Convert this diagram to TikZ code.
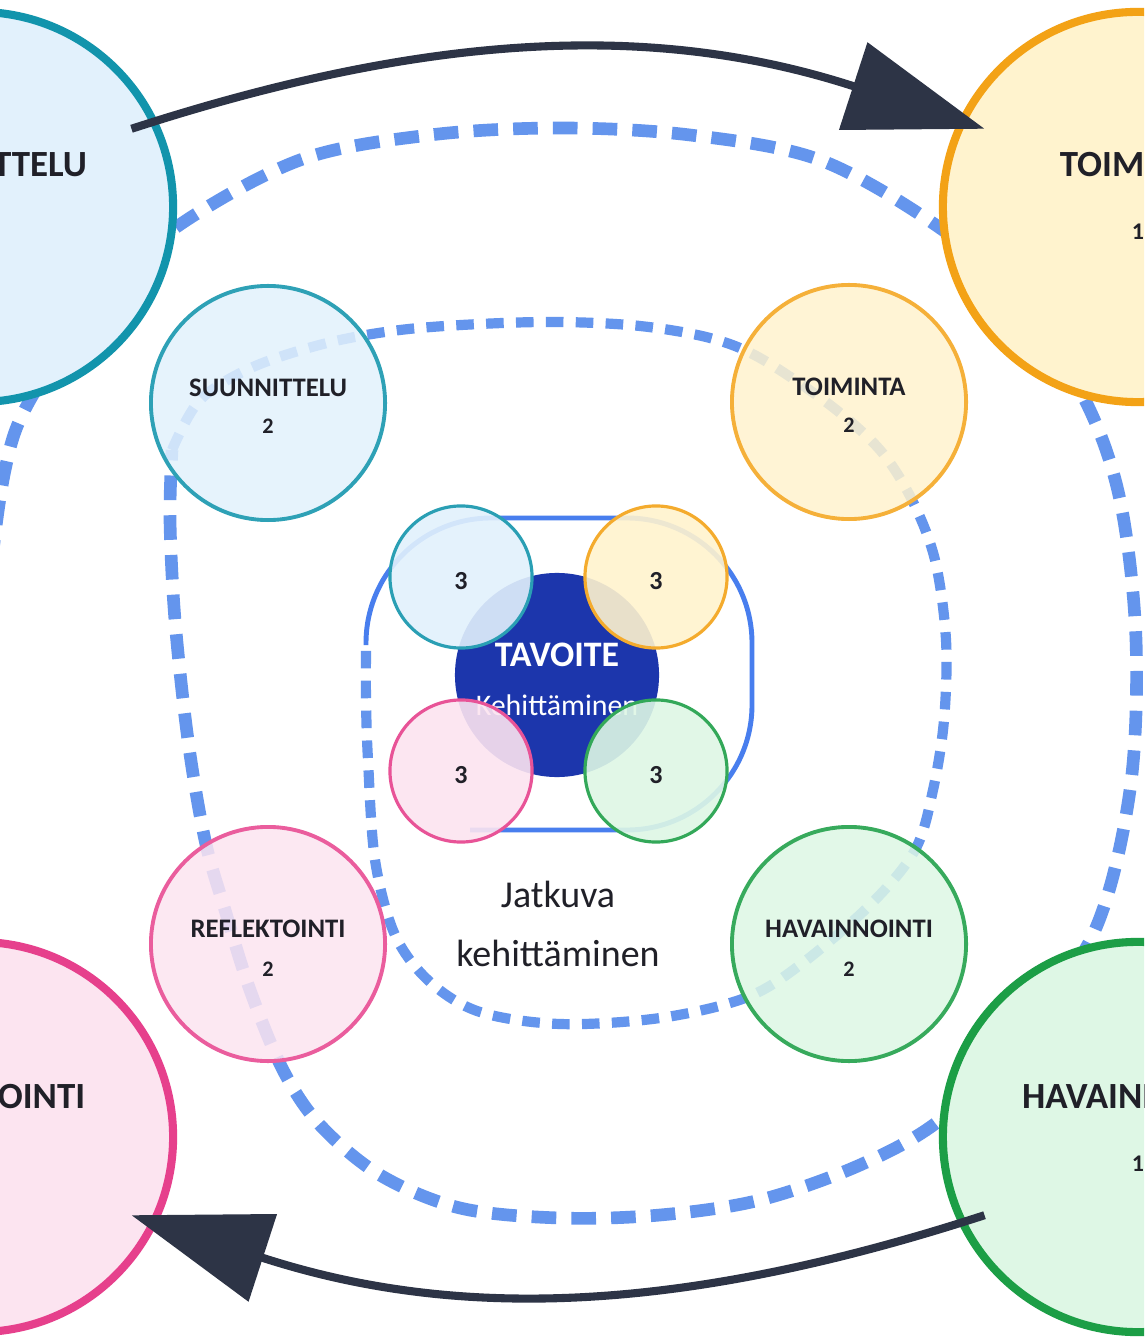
\documentclass[tikz,border=0pt]{standalone}
\usepackage{fontspec}
\setmainfont{Carlito}
\usetikzlibrary{arrows.meta, calc}

\definecolor{tealline}{RGB}{18,148,172}
\definecolor{tealfill}{RGB}{226,241,252}
\definecolor{orangeline}{RGB}{243,162,22}
\definecolor{orangefill}{RGB}{255,243,206}
\definecolor{pinkline}{RGB}{230,64,140}
\definecolor{pinkfill}{RGB}{252,228,240}
\definecolor{greenline}{RGB}{28,158,70}
\definecolor{greenfill}{RGB}{222,247,229}
\definecolor{loopblue}{RGB}{100,149,237}
\definecolor{ringblue}{RGB}{72,126,238}
\definecolor{goalblue}{RGB}{28,54,172}
\definecolor{arrowdark}{RGB}{45,52,70}
\definecolor{textdark}{RGB}{32,32,40}

\tikzset {
    level one/.style = {circle, inner sep = 0pt, line width = 2.3pt, minimum size = 3.9cm},
    level two/.style = {circle, inner sep = 0pt, line width = 1.1pt, minimum size = 2.34cm, fill opacity = .85},
    level three/.style = {circle, inner sep = 0pt, line width = .9pt, minimum size = 1.42cm,
        fill opacity = .9, text opacity = 1, text = textdark, text height = 2.6mm,
        font = \bfseries\fontsize{7.4}{8}\selectfont},
    goal/.style = {circle, inner sep = 0pt, minimum size = 2.04cm, fill = goalblue},
    %
    one label/.style = {text = textdark, font = \bfseries\fontsize{10.5}{12}\selectfont},
    one number/.style = {text = textdark, font = \bfseries\fontsize{6.8}{8}\selectfont},
    two label/.style = {text = textdark, font = \bfseries\fontsize{7.6}{9}\selectfont},
    two number/.style = {text = textdark, font = \bfseries\fontsize{6.3}{8}\selectfont},
    %
    spiral outer/.style = {draw = loopblue, line width = 3.6pt, dash pattern = on 7pt off 4.3pt},
    spiral inner/.style = {draw = loopblue, line width = 2.9pt, dash pattern = on 5pt off 3.5pt},
    ring/.style = {draw = ringblue, line width = 1.4pt, rounded corners = 1.25cm},
    flow/.style = {draw = arrowdark, line width = 2.3pt, -{Triangle[length = 1.38cm, width = .9cm]}}
}

\begin{document}
\begin{tikzpicture}[x = 0.01cm, y = -0.01cm]
    \useasboundingbox (0, 0) rectangle (1144, 1337);
    \clip (0, 0) rectangle (1144, 1337);
    \fill[white] (0, 0) rectangle (1144, 1337);

    % the spiral, outside in
    \draw[spiral outer] plot[smooth, tension = .55] coordinates {
        (-10, 1000) (-25, 800) (-12, 600) (5, 470) (30, 400) (100, 300) (175, 228)
        (300, 160) (430, 135) (560, 128) (690, 135) (820, 160) (940, 228)
        (1020, 300) (1085, 400) (1120, 500) (1136, 640) (1130, 790) (1095, 930)
        (1020, 1040) (940, 1120) (860, 1165) (760, 1200) (660, 1215) (560, 1218)
        (460, 1208) (380, 1175) (320, 1125) (283, 1070) (250, 990) (225, 910)
        (205, 840) (188, 740) (175, 620) (170, 520) (172, 450)};
    \draw[spiral inner] plot[smooth, tension = .55] coordinates {
        (172, 450) (200, 400) (253, 367) (327, 343) (400, 330) (480, 324) (560, 322)
        (640, 326) (710, 338) (760, 358) (830, 405) (880, 450) (912, 500) (935, 560)
        (946, 640) (944, 720) (933, 790) (915, 850) (870, 905) (800, 965) (745, 998)
        (660, 1018) (560, 1024) (480, 1012) (430, 982) (395, 935) (375, 860)
        (368, 760) (366, 700) (366, 645)};
    \draw[ring] (366, 645) -- (366, 518) -- (752, 518) -- (752, 830) -- (470, 830);

    % centre
    \node[goal] (goal) at (557, 675) {};
    \node[text = white, font = \bfseries\fontsize{10.2}{12}\selectfont] at ([yshift = 2mm]goal) {TAVOITE};
    \node[text = white, font = \fontsize{8.5}{10}\selectfont] at ([yshift = -3mm]goal) {Kehittäminen};

    \node[level three, draw = tealline!90, fill = tealfill] (s3) at (461, 577) {3};
    \node[level three, draw = orangeline!90, fill = orangefill] (t3) at (656, 577) {3};
    \node[level three, draw = pinkline!90, fill = pinkfill] (r3) at (461, 771) {3};
    \node[level three, draw = greenline!90, fill = greenfill] (h3) at (656, 771) {3};

    % second round
    \node[level two, draw = tealline!88, fill = tealfill] (s2) at (268, 403) {};
    \node[level two, draw = orangeline!85, fill = orangefill] (t2) at (849, 402) {};
    \node[level two, draw = pinkline!85, fill = pinkfill] (r2) at (268, 944) {};
    \node[level two, draw = greenline!88, fill = greenfill] (h2) at (849, 944) {};

    \node[two label] at ([yshift = 1.5mm]s2) {SUUNNITTELU};
    \node[two number] at ([yshift = -2.3mm]s2) {2};
    \node[two label] at ([yshift = 1.5mm]t2) {TOIMINTA};
    \node[two number] at ([yshift = -2.3mm]t2) {2};
    \node[two label] at ([yshift = 1.5mm]r2) {REFLEKTOINTI};
    \node[two number] at ([yshift = -2.5mm]r2) {2};
    \node[two label] at ([yshift = 1.5mm]h2) {HAVAINNOINTI};
    \node[two number] at ([yshift = -2.5mm]h2) {2};

    \node[align = center, text = textdark, font = \fontsize{10.8}{16.8}\selectfont] at (558, 924)
        {Jatkuva\\kehittäminen};

    % first round
    \node[level one, draw = tealline, fill = tealfill] (s1) at (-22, 207) {};
    \node[level one, draw = orangeline, fill = orangefill] (t1) at (1138, 207) {};
    \node[level one, draw = pinkline, fill = pinkfill] (r1) at (-22, 1137) {};
    \node[level one, draw = greenline, fill = greenfill] (h1) at (1138, 1137) {};

    \node[one label] at ([yshift = 4.2mm]s1) {SUUNNITTELU};
    \node[one number] at ([yshift = -2.5mm]s1) {1};
    \node[one label] at ([yshift = 4.2mm]t1) {TOIMINTA};
    \node[one number] at ([yshift = -2.5mm]t1) {1};
    \node[one label] at ([yshift = 4mm]r1) {REFLEKTOINTI};
    \node[one number] at ([yshift = -2.7mm]r1) {1};
    \node[one label] at ([yshift = 4mm]h1) {HAVAINNOINTI};
    \node[one number] at ([yshift = -2.7mm]h1) {1};

    \draw[flow] ($(s1.center)!.865!(s1.27)$) to[out = 18, in = 162] ($(t1.center)!.865!(t1.153)$);
    \draw[flow] ($(h1.center)!.865!(h1.207)$) to[out = 198, in = -18] ($(r1.center)!.865!(r1.-27)$);
\end{tikzpicture}
\end{document}
